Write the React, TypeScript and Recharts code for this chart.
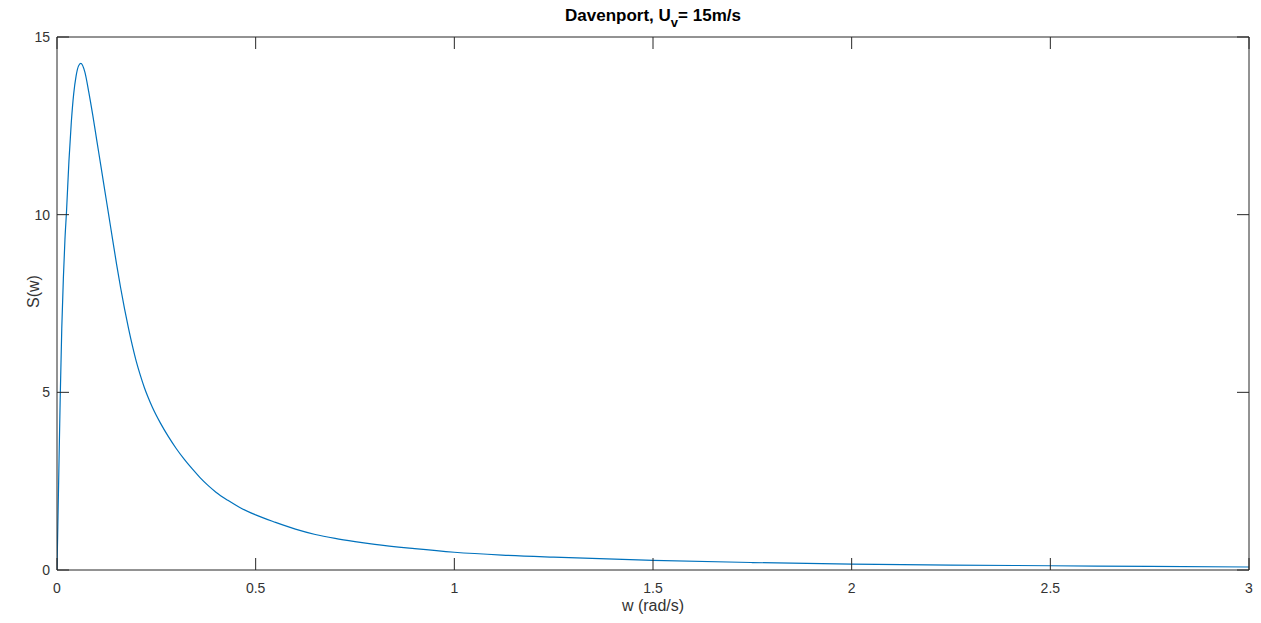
import React from 'react';
import { LineChart, Line, XAxis, YAxis } from 'recharts';

// angular frequency w (rad/s)
const freq = [
  0, 0.004, 0.008, 0.012, 0.016, 0.02, 0.024, 0.03, 0.036, 0.042, 0.048, 0.054,
  0.06, 0.07, 0.08, 0.09, 0.1, 0.11, 0.12, 0.13, 0.14, 0.15, 0.16, 0.17, 0.18,
  0.19, 0.2, 0.21, 0.22, 0.23, 0.24, 0.26, 0.28, 0.3, 0.32, 0.34, 0.36, 0.38,
  0.4, 0.43, 0.46, 0.5, 0.55, 0.6, 0.65, 0.7, 0.75, 0.8, 0.9, 1.0, 1.12, 1.25,
  1.5, 1.75, 2.0, 2.25, 2.5, 2.75, 3.0,
];

// spectral density S(w)
const spectrum = [
  0, 2.4, 4.8, 6.8, 8.2, 9.3, 10.1, 11.5, 12.6, 13.4, 13.9, 14.18,
  14.26, 14.02, 13.45, 12.8, 12.1, 11.4, 10.7, 10.0, 9.3, 8.6, 7.95, 7.35, 6.8,
  6.3, 5.85, 5.47, 5.13, 4.84, 4.58, 4.14, 3.76, 3.42, 3.12, 2.85, 2.6, 2.38,
  2.19, 1.96, 1.76, 1.55, 1.34, 1.15, 1.0, 0.89, 0.8, 0.72, 0.6, 0.5, 0.42, 0.36,
  0.27, 0.21, 0.165, 0.14, 0.12, 0.1, 0.085,
];

const xTicks = [0, 0.5, 1, 1.5, 2, 2.5, 3];
const yTicks = [0, 5, 10, 15];

const data = freq.map((w, i) => ({ w, s: spectrum[i] }));

const AXIS = '#262626';
const TEXT = '#333333';
const TICK_LEN = 12;
const FONT = '"Liberation Sans", Arial, Helvetica, sans-serif';

const BottomTick = ({ x, y, payload }: any) => (
  <g>
    <line x1={x} y1={y} x2={x} y2={y - TICK_LEN} stroke={AXIS} />
    <text x={x} y={y + 23} textAnchor="middle" fill={TEXT} fontSize={14} fontFamily={FONT}>
      {payload.value}
    </text>
  </g>
);

const TopTick = ({ x, y }: any) => (
  <line x1={x} y1={y} x2={x} y2={y + TICK_LEN} stroke={AXIS} />
);

const LeftTick = ({ x, y, payload }: any) => (
  <g>
    <line x1={x} y1={y} x2={x + TICK_LEN} y2={y} stroke={AXIS} />
    <text x={x - 7} y={y + 5} textAnchor="end" fill={TEXT} fontSize={14} fontFamily={FONT}>
      {payload.value}
    </text>
  </g>
);

const RightTick = ({ x, y }: any) => (
  <line x1={x} y1={y} x2={x - TICK_LEN} y2={y} stroke={AXIS} />
);

const Title = ({ viewBox }: any) => (
  <text
    x={viewBox.x + viewBox.width / 2}
    y={21}
    textAnchor="middle"
    fill="#000"
    fontSize={17}
    fontWeight="bold"
    fontFamily={FONT}
  >
    Davenport, U
    <tspan dy={6} fontSize={13}>v</tspan>
    <tspan dy={-6}>= 15m/s</tspan>
  </text>
);

const XLabel = ({ viewBox }: any) => (
  <text
    x={viewBox.x + viewBox.width / 2}
    y={viewBox.y + 41}
    textAnchor="middle"
    fill={TEXT}
    fontSize={16}
    fontFamily={FONT}
  >
    w (rad/s)
  </text>
);

const YLabel = ({ viewBox }: any) => {
  const cx = 39;
  const cy = viewBox.y + viewBox.height / 2 - 12;
  return (
    <text
      x={cx}
      y={cy}
      transform={`rotate(-90 ${cx} ${cy})`}
      textAnchor="middle"
      fill={TEXT}
      fontSize={16}
      fontFamily={FONT}
    >
      S(w)
    </text>
  );
};

export default function App() {
  return (
    <div style={{ position: 'absolute', left: 0, top: 0, background: '#fff' }}>
      <LineChart width={1261} height={623} data={data} margin={{ top: 0, right: 0, bottom: 0, left: 0 }}>
        <XAxis
          dataKey="w"
          type="number"
          domain={[0, 3]}
          ticks={xTicks}
          height={53}
          stroke={AXIS}
          tickSize={0}
          tickMargin={0}
          tick={BottomTick}
          allowDataOverflow
          label={{ content: XLabel }}
        />
        <XAxis
          xAxisId="top"
          orientation="top"
          dataKey="w"
          type="number"
          domain={[0, 3]}
          ticks={xTicks}
          height={37}
          stroke={AXIS}
          tickSize={0}
          tickMargin={0}
          tick={TopTick}
          allowDataOverflow
          label={{ content: Title }}
        />
        <YAxis
          type="number"
          domain={[0, 15]}
          ticks={yTicks}
          width={57}
          stroke={AXIS}
          tickSize={0}
          tickMargin={0}
          tick={LeftTick}
          allowDataOverflow
          label={{ content: YLabel }}
        />
        <YAxis
          yAxisId="right"
          orientation="right"
          type="number"
          domain={[0, 15]}
          ticks={yTicks}
          width={12}
          stroke={AXIS}
          tickSize={0}
          tickMargin={0}
          tick={RightTick}
          allowDataOverflow
        />
        <Line
          type="monotone"
          dataKey="s"
          stroke="#0072BD"
          strokeWidth={1.2}
          dot={false}
          isAnimationActive={false}
        />
      </LineChart>
    </div>
  );
}
